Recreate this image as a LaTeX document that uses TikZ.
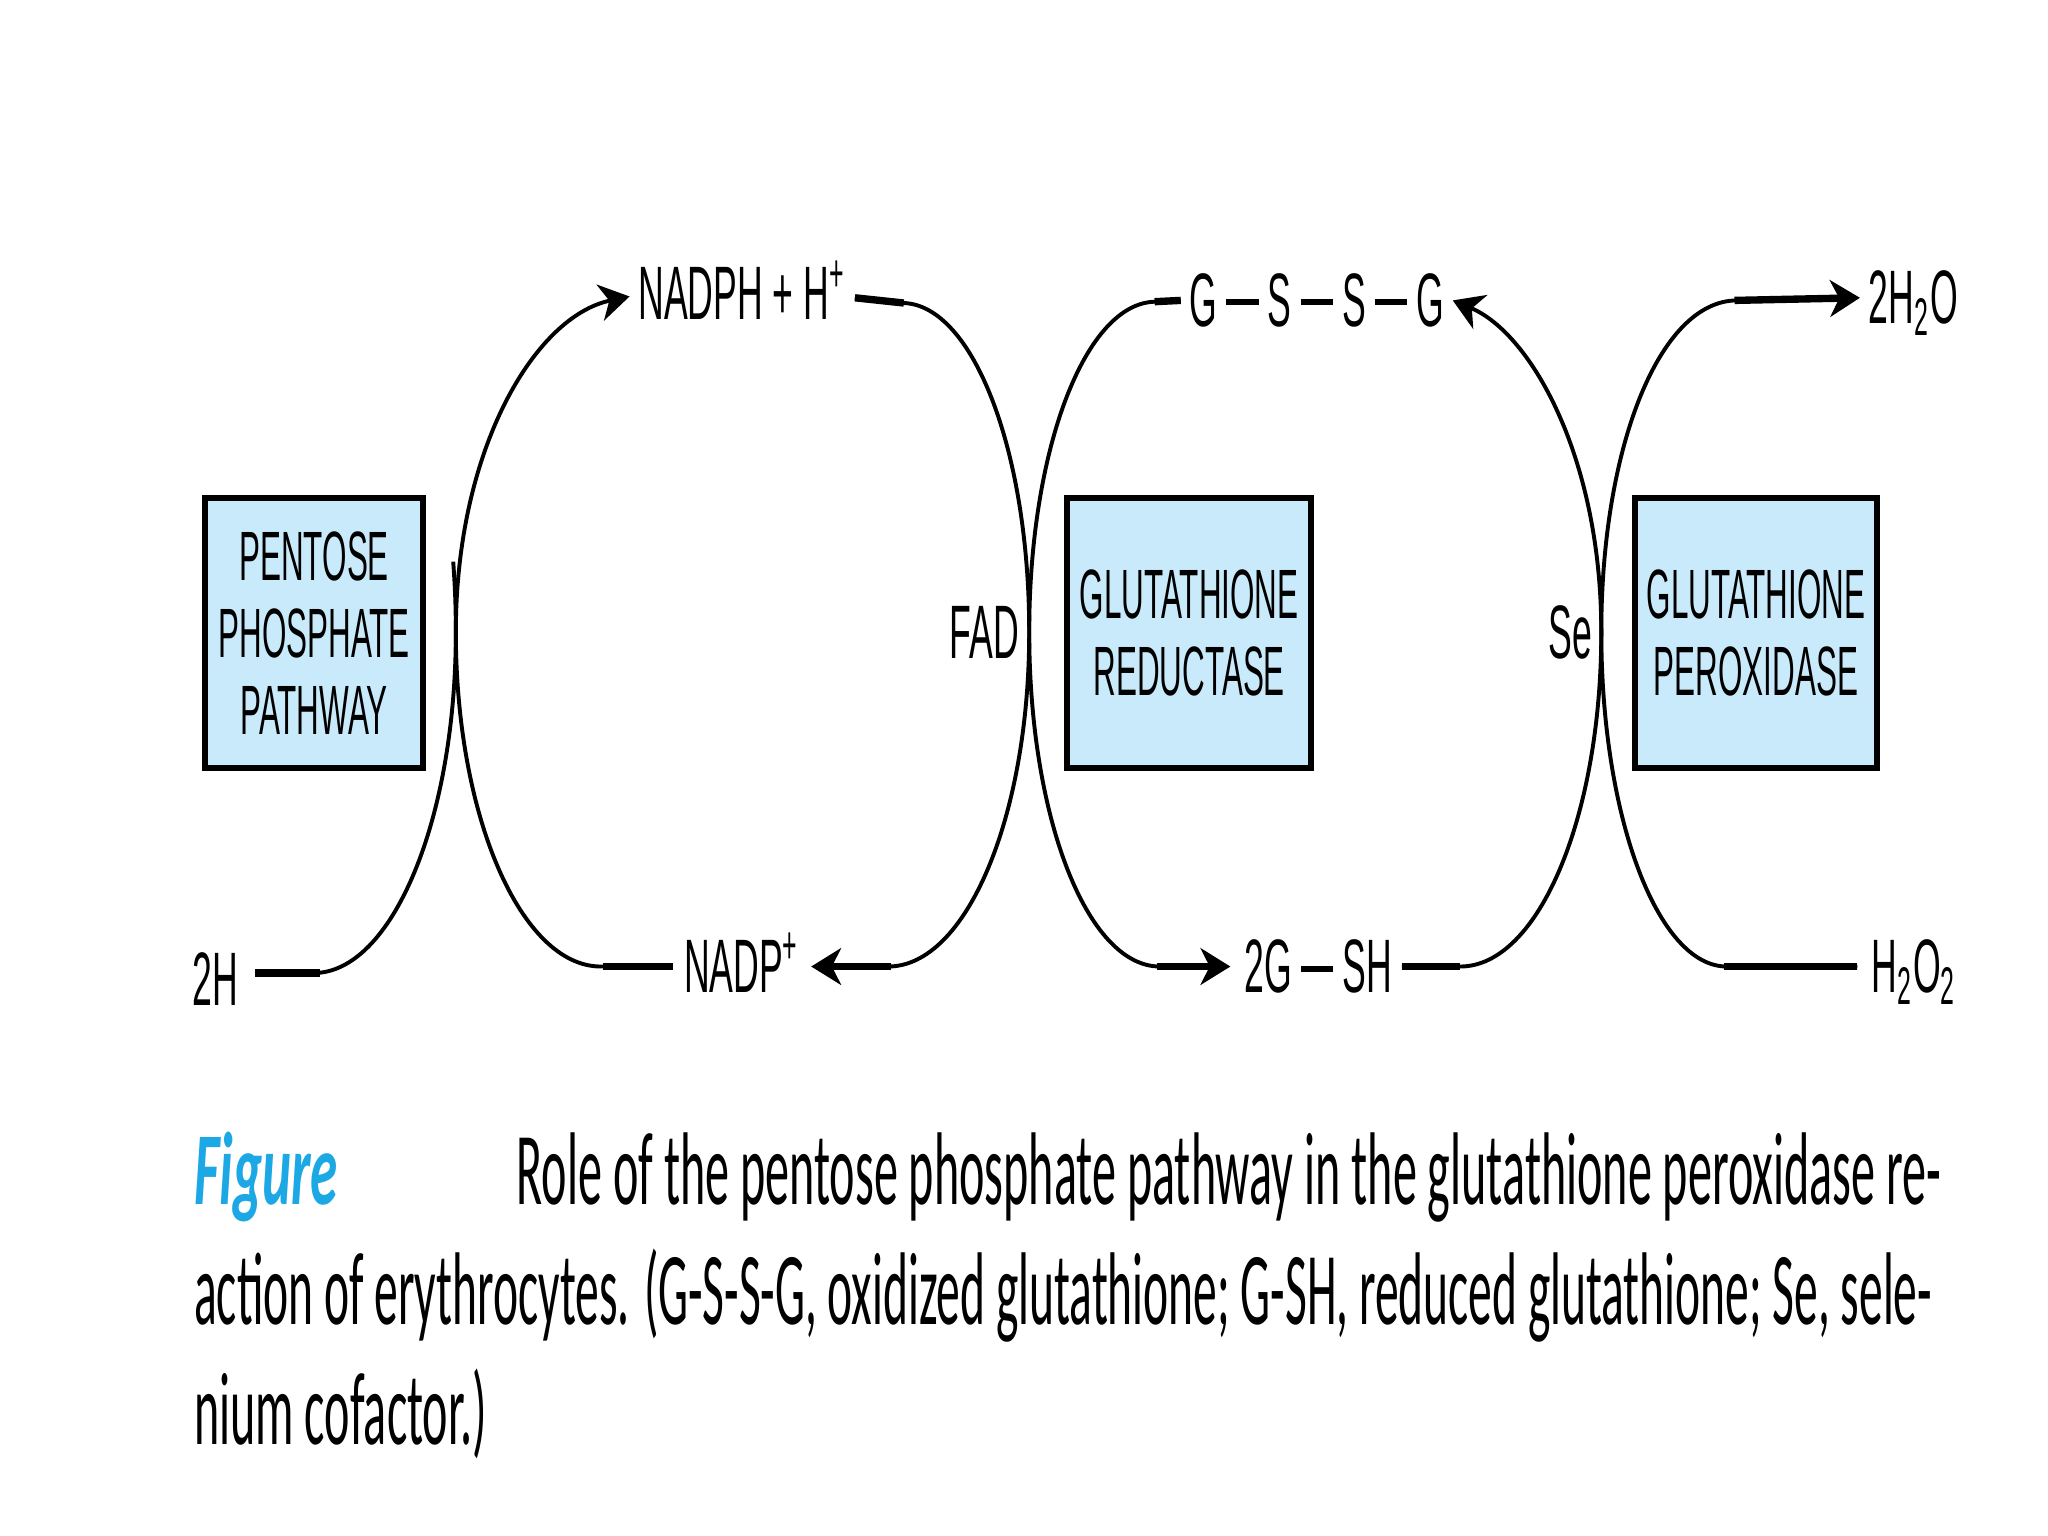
\documentclass[tikz,border=0pt]{standalone}
\usepackage{fontspec}
\usepackage{graphicx}
\usetikzlibrary{arrows.meta,calc}
\newfontfamily\lblfont{Liberation Sans}[FakeStretch=0.47]
\newfontfamily\boxfont{Liberation Sans}[FakeStretch=0.45]
\newfontfamily\capfont{Carlito}[FakeStretch=0.5]
\definecolor{boxblue}{RGB}{200,234,250}
\definecolor{figblue}{RGB}{28,168,228}
\newcommand\bondd{\hspace{2pt}\rule[4.6pt]{7pt}{1.3pt}\hspace{2pt}}
\begin{document}
\begin{tikzpicture}[x=0.01cm,y=-0.01cm,
  lbl/.style={font=\lblfont\fontsize{16.5}{18}\selectfont, inner sep=0pt},
  enz/.style={draw=black, line width=1.3pt, fill=boxblue, minimum height=2.07cm,
     align=center, inner sep=0pt, font=\boxfont\fontsize{15.2}{16.8}\selectfont},
  conn/.style={line width=0.85pt},
  stub/.style={line width=1.6pt},
  tip/.style={-{Stealth[length=6.5pt,width=8pt,inset=2pt]}},
  captext/.style={font=\capfont\fontsize{22.5}{26}\selectfont, inner sep=0pt, anchor=base west}]
\useasboundingbox (0,0) rectangle (1568,1176);
\fill[white] (0,0) rectangle (1568,1176);

% enzyme boxes
\node[enz, minimum width=1.67cm] (ppp) at (240.5,484.5) {PENTOSE\\PHOSPHATE\\PATHWAY};
\node[enz, minimum width=1.87cm] (gr) at (910.5,484.5) {GLUTATHIONE\\REDUCTASE};
\node[enz, minimum width=1.85cm] (gp) at (1344.5,484.5) {GLUTATHIONE\\PEROXIDASE};

% metabolite labels
\node[lbl, anchor=base west] (nadph) at (488,245) {NADPH + H\textsuperscript{+}};
\node[lbl, anchor=base west] (nadp) at (523,760) {NADP\textsuperscript{+}};
\node[lbl, anchor=base west] (twoh) at (147,770) {2H};
\node[lbl, anchor=base west] (gssg) at (910,250) {G\bondd S\bondd S\bondd G};
\node[lbl, anchor=base west] (gsh) at (952,760) {2G\bondd SH};
\node[lbl, anchor=base west] (water) at (1430,248) {2H\textsubscript{2}O};
\node[lbl, anchor=base west] (perox) at (1432,760) {H\textsubscript{2}O\textsubscript{2}};
\node[lbl, anchor=base east] (fad) at (781,504) {FAD};
\node[lbl, anchor=base east] (se) at (1220,504) {Se};

% crossing points and connector ends
\coordinate (X1) at (349,484);
\coordinate (X2) at (788,484);
\coordinate (X3) at (1226,484);
\coordinate (twohE) at ($(twoh.base east)+(12,-25)$);
\coordinate (nadpW) at ($(nadp.base west)+(-8,-20)$);
\coordinate (nadpE) at ($(nadp.base east)+(8,-20)$);
\coordinate (nadphW) at ($(nadph.base west)+(-6,-18)$);
\coordinate (nadphE) at ($(nadph.base east)+(6,-17)$);
\coordinate (gssgW) at ($(gssg.base west)+(-6,-20)$);
\coordinate (gssgE) at ($(gssg.base east)+(6,-20)$);
\coordinate (gshW) at ($(gsh.base west)+(-10,-20)$);
\coordinate (gshE) at ($(gsh.base east)+(7,-20)$);
\coordinate (waterW) at ($(water.base west)+(-6,-20)$);
\coordinate (peroxW) at ($(perox.base west)+(-10,-20)$);

% loop 1 (pentose phosphate pathway)
\draw[conn] (twohE) -- (240,745) .. controls (300,745) and (349,628) .. (X1)
   .. controls (349,460) and (348,445) .. (347,430);
\draw[stub] (twohE) -- (245,745);
\draw[conn,tip] (nadpW) -- (460,740) .. controls (399,740) and (349,625) .. (X1)
   .. controls (349,343) and (410,242) .. (nadphW);
\draw[stub] (nadpW) -- (462,740);
% loop 1 right / loop 2 left (glutathione reductase)
\draw[conn] (nadphE) -- (692,232) .. controls (745,234) and (788,345) .. (X2)
   .. controls (788,625) and (740,740) .. (680,740);
\draw[stub] (nadphE) -- (692,232);
\draw[stub,tip] (682,740) -- (nadpE);
\draw[conn] (gssgW) -- (885,231) .. controls (831,231) and (788,344) .. (X2)
   .. controls (788,625) and (832,740) .. (888,740);
\draw[stub] (gssgW) -- (884,231);
\draw[stub,tip] (886,740) -- (gshW);
% loop 3 (glutathione peroxidase)
\draw[conn,tip] (gshE) -- (1118,740) .. controls (1178,740) and (1226,625) .. (X3)
   .. controls (1226,350) and (1172,255) .. (gssgE);
\draw[stub] (gshE) -- (1118,740);
\draw[conn] (peroxW) -- (1322,740) .. controls (1269,740) and (1226,625) .. (X3)
   .. controls (1226,344) and (1270,230) .. (1330,230);
\draw[stub] (peroxW) -- (1320,740);
\draw[stub,tip] (1328,230) -- (waterW);

% caption
\node[captext, text=figblue, font=\capfont\bfseries\itshape\fontsize{22.5}{26}\selectfont] (fig) at (148,922)
   {\resizebox{1.10cm}{\height}{Figure}};
\node[captext] (l1) at (395,922)
   {\resizebox{10.90cm}{\height}{Role of the pentose phosphate pathway in the glutathione peroxidase re-}};
\node[captext] (l2) at (148,1014)
   {\resizebox{13.30cm}{\height}{action of erythrocytes. (G-S-S-G, oxidized glutathione; G-SH, reduced glutathione; Se, sele-}};
\node[captext] (l3) at (148,1106)
   {\resizebox{2.24cm}{\height}{nium cofactor.)}};
\end{tikzpicture}
\end{document}
